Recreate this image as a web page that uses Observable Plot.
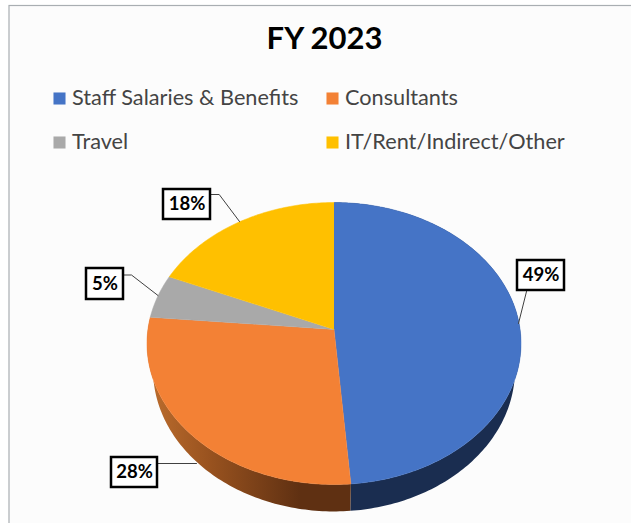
<!DOCTYPE html>
<html>
<head>
<meta charset="utf-8">
<script src="https://cdn.jsdelivr.net/npm/d3@7"></script>
<script src="https://cdn.jsdelivr.net/npm/@observablehq/plot@0.6"></script>
<style>html,body{margin:0;padding:0;background:#fff}svg{display:block}</style>
</head>
<body>
<div id="chart"></div>
<script>
const categories = ["Staff Salaries & Benefits", "Consultants", "Travel", "IT/Rent/Indirect/Other"];
const shares = [48.7, 27.7, 5.0, 18.6];
const percentLabels = ["49%", "28%", "5%", "18%"];
const colours = ["#4574c6", "#f38135", "#a9a9a9", "#ffc000"];

// layout, in page pixels, converted to the chart's unit-disc coordinates
const W = 631, H = 523;
const left = 146.5, right = 520.5, top_ = 202, bottom = 484;
const nx = p => (p - (left + right) / 2) / ((right - left) / 2);
const ny = p => ((top_ + bottom) / 2 - p) / ((bottom - top_) / 2);
const apexShift = 0.1;

const boxes = [[517, 564, 260, 290], [111, 157, 457, 487], [86, 123, 268, 299], [163, 210, 189, 219]];
const leaders = [
  [[526, 291], [518, 323]],
  [[157, 463], [196, 463]],
  [[123, 274.5], [131, 274.5], [157.5, 295]],
  [[210, 194], [218.7, 194], [239, 221]]
];
const legendSpots = [[53, 98], [326, 98], [53, 142], [326, 142]];

// perspective-tilted rim: rotation angle (degrees, clockwise from top) -> unit-disc point
function rim(deg) {
  const a = deg * Math.PI / 180, s = Math.sin(a), c = Math.cos(a), d = 1 + apexShift * c;
  return [s * Math.sqrt(1 - apexShift ** 2) / d, (c + apexShift) / d];
}
const lower = ([x, y]) => [x * 0.968, y * 1.007 - 0.184];

let cum = 0;
const sliceRows = [], wallRows = [];
categories.forEach((name, i) => {
  const a0 = cum * 3.6; cum += shares[i]; const a1 = cum * 3.6;
  const n = Math.max(4, Math.ceil(a1 - a0));
  const arc = d3.range(n + 1).map(k => rim(a0 + (a1 - a0) * k / n));
  const apex = [0, apexShift];
  [apex, ...arc].forEach(([x, y]) => sliceRows.push({name, x, y}));
  [...arc, ...arc.slice().reverse().map(lower)].forEach(([x, y]) => wallRows.push({name, x, y}));
});

const sideGradient = () => {
  const svg = d3.create("svg:g");
  const g = svg.append("defs").append("linearGradient")
    .attr("id", "orangeWall").attr("gradientUnits", "userSpaceOnUse")
    .attr("x1", 150).attr("x2", 300).attr("y1", 0).attr("y2", 0);
  g.append("stop").attr("offset", 0).attr("stop-color", "#bb6c2d");
  g.append("stop").attr("offset", 0.4).attr("stop-color", "#98521f");
  g.append("stop").attr("offset", 1).attr("stop-color", "#5f3012");
  return svg.node();
};

const pageText = (text, x, y, o) => Plot.text([text], {
  frameAnchor: "top-left", dx: x, dy: y, lineAnchor: "middle", fontFamily: "Lato", ...o
});

const boxRows = percentLabels.map((label, i) => {
  const [l, r, t, b] = boxes[i];
  return {label, x1: nx(l), x2: nx(r), y1: ny(b), y2: ny(t), cx: nx((l + r) / 2), cy: ny((t + b) / 2)};
});
const leaderRows = leaders.flatMap((pts, i) => pts.map(([x, y]) => ({i, x: nx(x), y: ny(y)})));

const chart = Plot.plot({
  width: W, height: H,
  margin: 0,
  style: {background: "#fff"},
  x: {domain: [-1, 1], range: [left, right], axis: null},
  y: {domain: [-1, 1], range: [bottom, top_], axis: null},
  color: {domain: categories, range: colours},
  marks: [
    sideGradient,
    Plot.rect([0], {x1: nx(9), x2: nx(W + 5), y1: ny(H + 5), y2: ny(5.5), fill: "#fcfcfc", stroke: "#a9aeb2", strokeWidth: 1.2}),
    pageText("FY 2023", 324, 39, {textAnchor: "middle", fontSize: 31, fontWeight: 700, fill: "#000"}),
    ...categories.map((name, i) => Plot.dot([name], {
      frameAnchor: "top-left", dx: legendSpots[i][0] + 6, dy: legendSpots[i][1], symbol: "square", r: 6.8, fill: colours[i], stroke: "none"
    })),
    ...categories.map((name, i) => pageText(name, legendSpots[i][0] + 18.5, legendSpots[i][1], {textAnchor: "start", fontSize: 21.7, fill: "#444"})),
    Plot.line(wallRows.filter(d => d.name === categories[0]), {x: "x", y: "y", fill: "#1a2d50", stroke: "none"}),
    Plot.line(wallRows.filter(d => d.name === categories[1]), {x: "x", y: "y", fill: "url(#orangeWall)", stroke: "none"}),
    Plot.line(sliceRows, {x: "x", y: "y", z: "name", fill: "name", stroke: "name", strokeWidth: 0.5}),
    Plot.line(leaderRows, {x: "x", y: "y", z: "i", stroke: "#404040", strokeWidth: 1}),
    Plot.rect(boxRows, {x1: "x1", x2: "x2", y1: "y1", y2: "y2", fill: "#fff", stroke: "#000", strokeWidth: 2.5}),
    Plot.text(boxRows, {x: "cx", y: "cy", text: "label", fontFamily: "Lato", fontSize: 18.5, fontWeight: 700, fill: "#000"})
  ]
});
document.getElementById("chart").append(chart);
</script>
</body>
</html>
